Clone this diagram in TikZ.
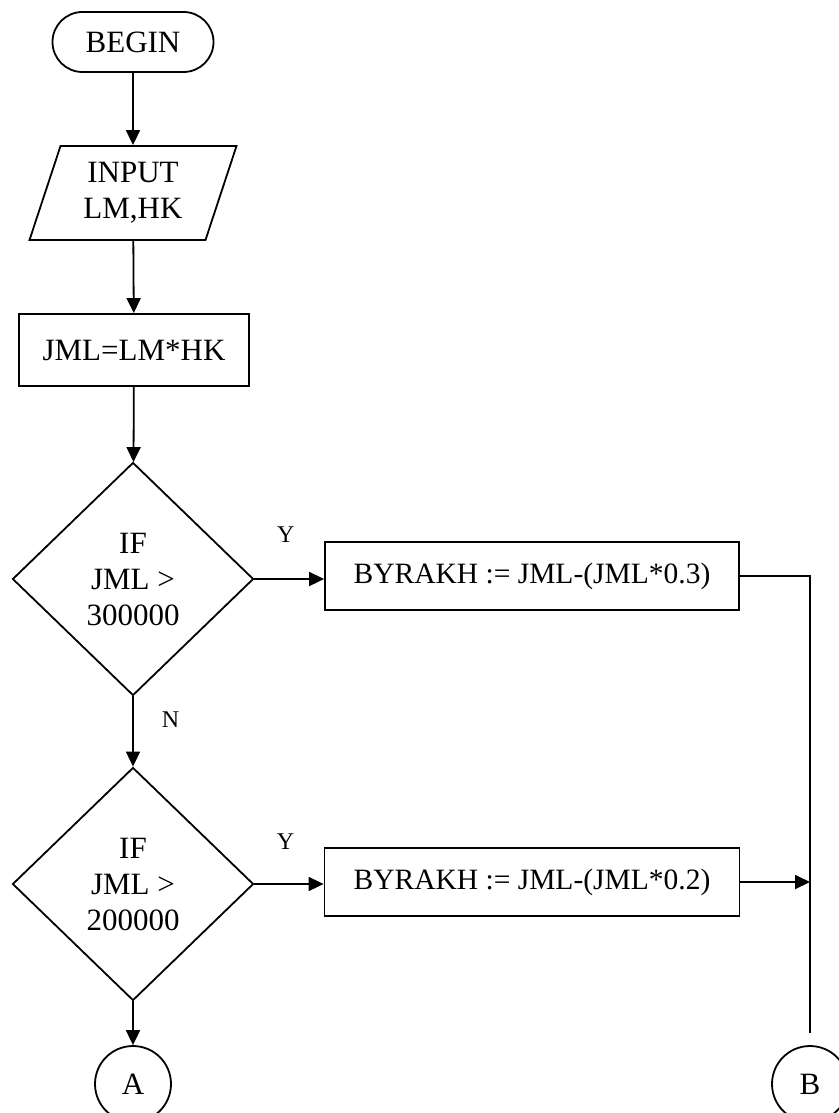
\documentclass[tikz,border=0pt]{standalone}
\usepackage{fontspec}
\setmainfont{Liberation Serif}
\usetikzlibrary{shapes.geometric,arrows.meta}

\begin{document}
\begin{tikzpicture}[x=1pt, y=-1pt, line width=1.8pt,
	every node/.style={font=\fontsize{31}{36}\selectfont, align=center},
	terminal/.style={draw, rounded corners=30pt, minimum width=161pt, minimum height=60pt},
	iobox/.style={draw, trapezium, trapezium left angle=65.4, trapezium right angle=114.6, trapezium stretches body, minimum width=207pt, minimum height=94pt},
	procbox/.style={draw, rectangle, minimum height=68pt},
	decision/.style={draw, diamond, inner sep=0pt, minimum width=241pt, minimum height=233pt},
	jumper/.style={draw, circle, minimum size=76pt, inner sep=0pt},
	flow/.style={-{Triangle[length=15pt, width=14pt]}},
	answer/.style={font=\fontsize{24}{28}\selectfont, inner sep=2pt}]
	\fill[white] (0,0) rectangle (838,1113);
	\useasboundingbox (0,0) rectangle (838,1113);
	
	\node[terminal] (begin) at (133,42) {BEGIN};
	\node[iobox] (input) at (133,193) {INPUT\\LM,HK};
	\node[procbox, minimum width=230pt, minimum height=72pt] (jml) at (134,350) {JML=LM*HK};
	
	\node[decision] (if1) at (133,579) {IF\\JML >\\300000};
	\node[procbox, minimum width=414pt, font=\fontsize{29.5}{36}\selectfont] (disc1) at (532,576) {BYRAKH := JML-(JML*0.3)};
	
	\node[decision] (if2) at (133,884) {IF\\JML >\\200000};
	\node[procbox, minimum width=415pt, font=\fontsize{29.5}{36}\selectfont] (disc2) at (532,882) {BYRAKH := JML-(JML*0.2)};
	
	\node[jumper] (A) at (133,1084) {A};
	\node[jumper] (B) at (810,1084) {B};
	
	\draw[flow] (begin) -- (input);
	\draw[flow] (input) -- (jml);
	\draw[flow] (jml) -- (if1);
	\draw[flow] (if1.east) -- (if1.east -| disc1.west) node[answer, pos=0.45, above=34pt] {Y};
	\draw[flow] (if1) -- (if2) node[answer, pos=0.33, right=26pt] {N};
	\draw[flow] (if2.east) -- (if2.east -| disc2.west) node[answer, pos=0.45, above=32pt] {Y};
	\draw[flow] (if2) -- (A);
	\draw (disc1.east) -| ([yshift=12pt]B.north);
	\draw[flow] (disc2.east) -- (disc2.east -| B.north);
\end{tikzpicture}
\end{document}
